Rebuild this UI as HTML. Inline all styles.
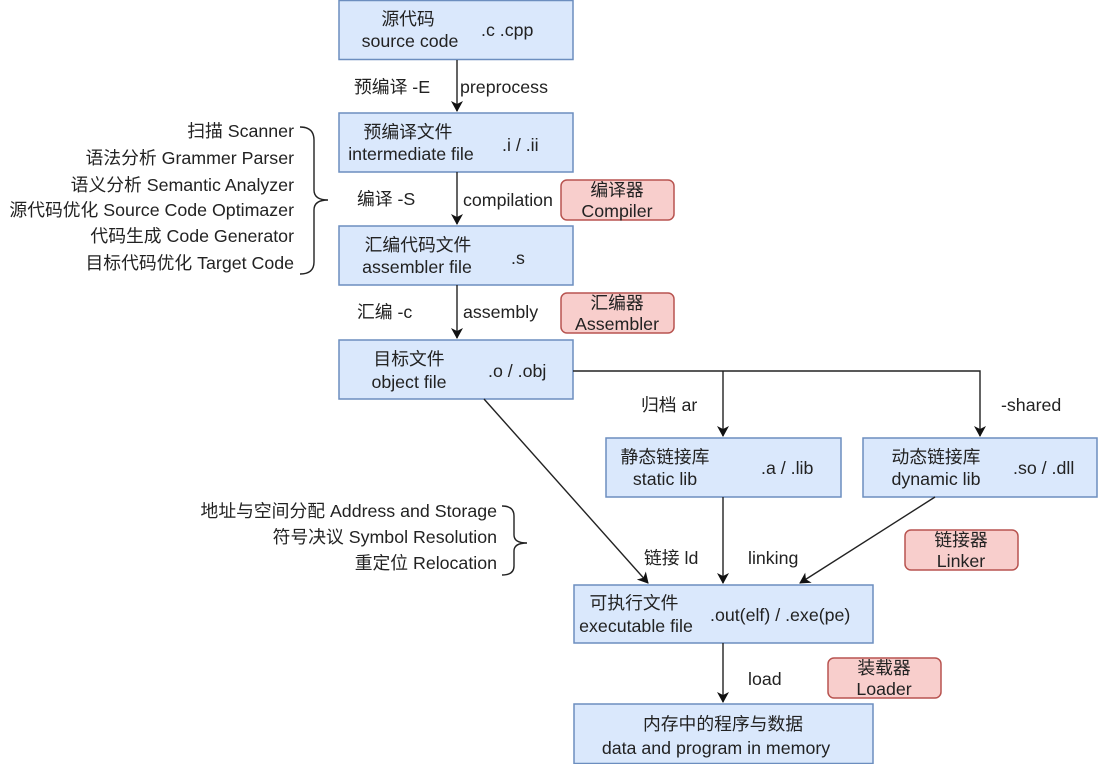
<!DOCTYPE html>
<html><head><meta charset="utf-8"><style>
html,body{margin:0;padding:0;background:#fff}
svg{display:block}
text{font-family:"Liberation Sans","Noto Sans CJK SC",sans-serif;font-size:17.8px;fill:#222}
.b{fill:#dae8fc;stroke:#6c8ebf;stroke-width:1.5}
.r{fill:#f8cecc;stroke:#b85450;stroke-width:1.5}
.l{stroke:#222;stroke-width:1.4;fill:none}
</style></head><body>
<svg width="1098" height="764" viewBox="0 0 1098 764">
<defs><marker id="a" markerWidth="12" markerHeight="12" refX="10" refY="6" orient="auto" markerUnits="userSpaceOnUse"><path d="M0,0 L11,6 L0,12 L3,6 Z" fill="#111"/></marker></defs>
<rect class="b" x="339" y="0.5" width="234" height="59"/>
<rect class="b" x="339" y="113" width="234" height="59"/>
<rect class="b" x="339" y="226" width="234" height="59"/>
<rect class="b" x="339" y="340" width="234" height="59"/>
<rect class="b" x="606" y="438" width="235" height="59"/>
<rect class="b" x="863" y="438" width="234" height="59"/>
<rect class="b" x="574" y="585" width="299" height="58"/>
<rect class="b" x="574" y="704" width="299" height="59.5"/>
<rect class="r" x="561" y="180" width="113" height="40" rx="6"/>
<rect class="r" x="561" y="293" width="113" height="40" rx="6"/>
<rect class="r" x="905" y="530" width="113" height="40" rx="6"/>
<rect class="r" x="828" y="658" width="113" height="40" rx="6"/>
<path class="l" d="M457,60 V111" marker-end="url(#a)"/>
<path class="l" d="M457,172 V224" marker-end="url(#a)"/>
<path class="l" d="M457,285 V338" marker-end="url(#a)"/>
<path class="l" d="M573,371 H980 V436" marker-end="url(#a)"/>
<path class="l" d="M723,371 V436" marker-end="url(#a)"/>
<path class="l" d="M723,497 V583" marker-end="url(#a)"/>
<path class="l" d="M484,399 L648,583" marker-end="url(#a)"/>
<path class="l" d="M935,497 L800,583" marker-end="url(#a)"/>
<path class="l" d="M723,643 V702" marker-end="url(#a)"/>
<path class="l" d="M300,127 Q314,127 314,140 V190 Q314,200 328,200 Q314,200 314,210 V262 Q314,274 300,274"/>
<path class="l" d="M502,506 Q514,506 514,516 V535 Q514,543 527,543 Q514,543 514,551 V566 Q514,575 502,575"/>
<g text-anchor="middle">
<text x="408" y="25">源代码</text><text x="410" y="47">source code</text>
<text x="408" y="138">预编译文件</text><text x="411" y="160">intermediate file</text>
<text x="418" y="251">汇编代码文件</text><text x="417" y="273">assembler file</text>
<text x="409" y="365">目标文件</text><text x="409" y="388">object file</text>
<text x="665" y="463">静态链接库</text><text x="665" y="485">static lib</text>
<text x="936" y="463">动态链接库</text><text x="936" y="485">dynamic lib</text>
<text x="634" y="609">可执行文件</text><text x="636" y="632">executable file</text>
<text x="723" y="730">内存中的程序与数据</text><text x="716" y="754">data and program in memory</text>
<text x="617" y="196">编译器</text><text x="617" y="217">Compiler</text>
<text x="617" y="309">汇编器</text><text x="617" y="330">Assembler</text>
<text x="961" y="546">链接器</text><text x="961" y="567">Linker</text>
<text x="884" y="674">装载器</text><text x="884" y="695">Loader</text>
</g>
<text x="481" y="36">.c .cpp</text>
<text x="502" y="151">.i / .ii</text>
<text x="511" y="264">.s</text>
<text x="488" y="377">.o / .obj</text>
<text x="761" y="474">.a / .lib</text>
<text x="1013" y="474">.so / .dll</text>
<text x="710" y="621">.out(elf) / .exe(pe)</text>
<text x="354" y="93">预编译 -E</text><text x="460" y="93">preprocess</text>
<text x="357" y="205">编译 -S</text><text x="463" y="206">compilation</text>
<text x="357" y="318">汇编 -c</text><text x="463" y="318">assembly</text>
<text x="641" y="411">归档 ar</text><text x="1001" y="411">-shared</text>
<text x="644" y="564">链接 ld</text><text x="748" y="564">linking</text>
<text x="748" y="685">load</text>
<g text-anchor="end">
<text x="294" y="137">扫描 Scanner</text>
<text x="294" y="164">语法分析 Grammer Parser</text>
<text x="294" y="191">语义分析 Semantic Analyzer</text>
<text x="294" y="216">源代码优化 Source Code Optimazer</text>
<text x="294" y="242">代码生成 Code Generator</text>
<text x="294" y="269">目标代码优化 Target Code</text>
<text x="497" y="517">地址与空间分配 Address and Storage</text>
<text x="497" y="543">符号决议 Symbol Resolution</text>
<text x="497" y="569">重定位 Relocation</text>
</g>
</svg>
</body></html>
